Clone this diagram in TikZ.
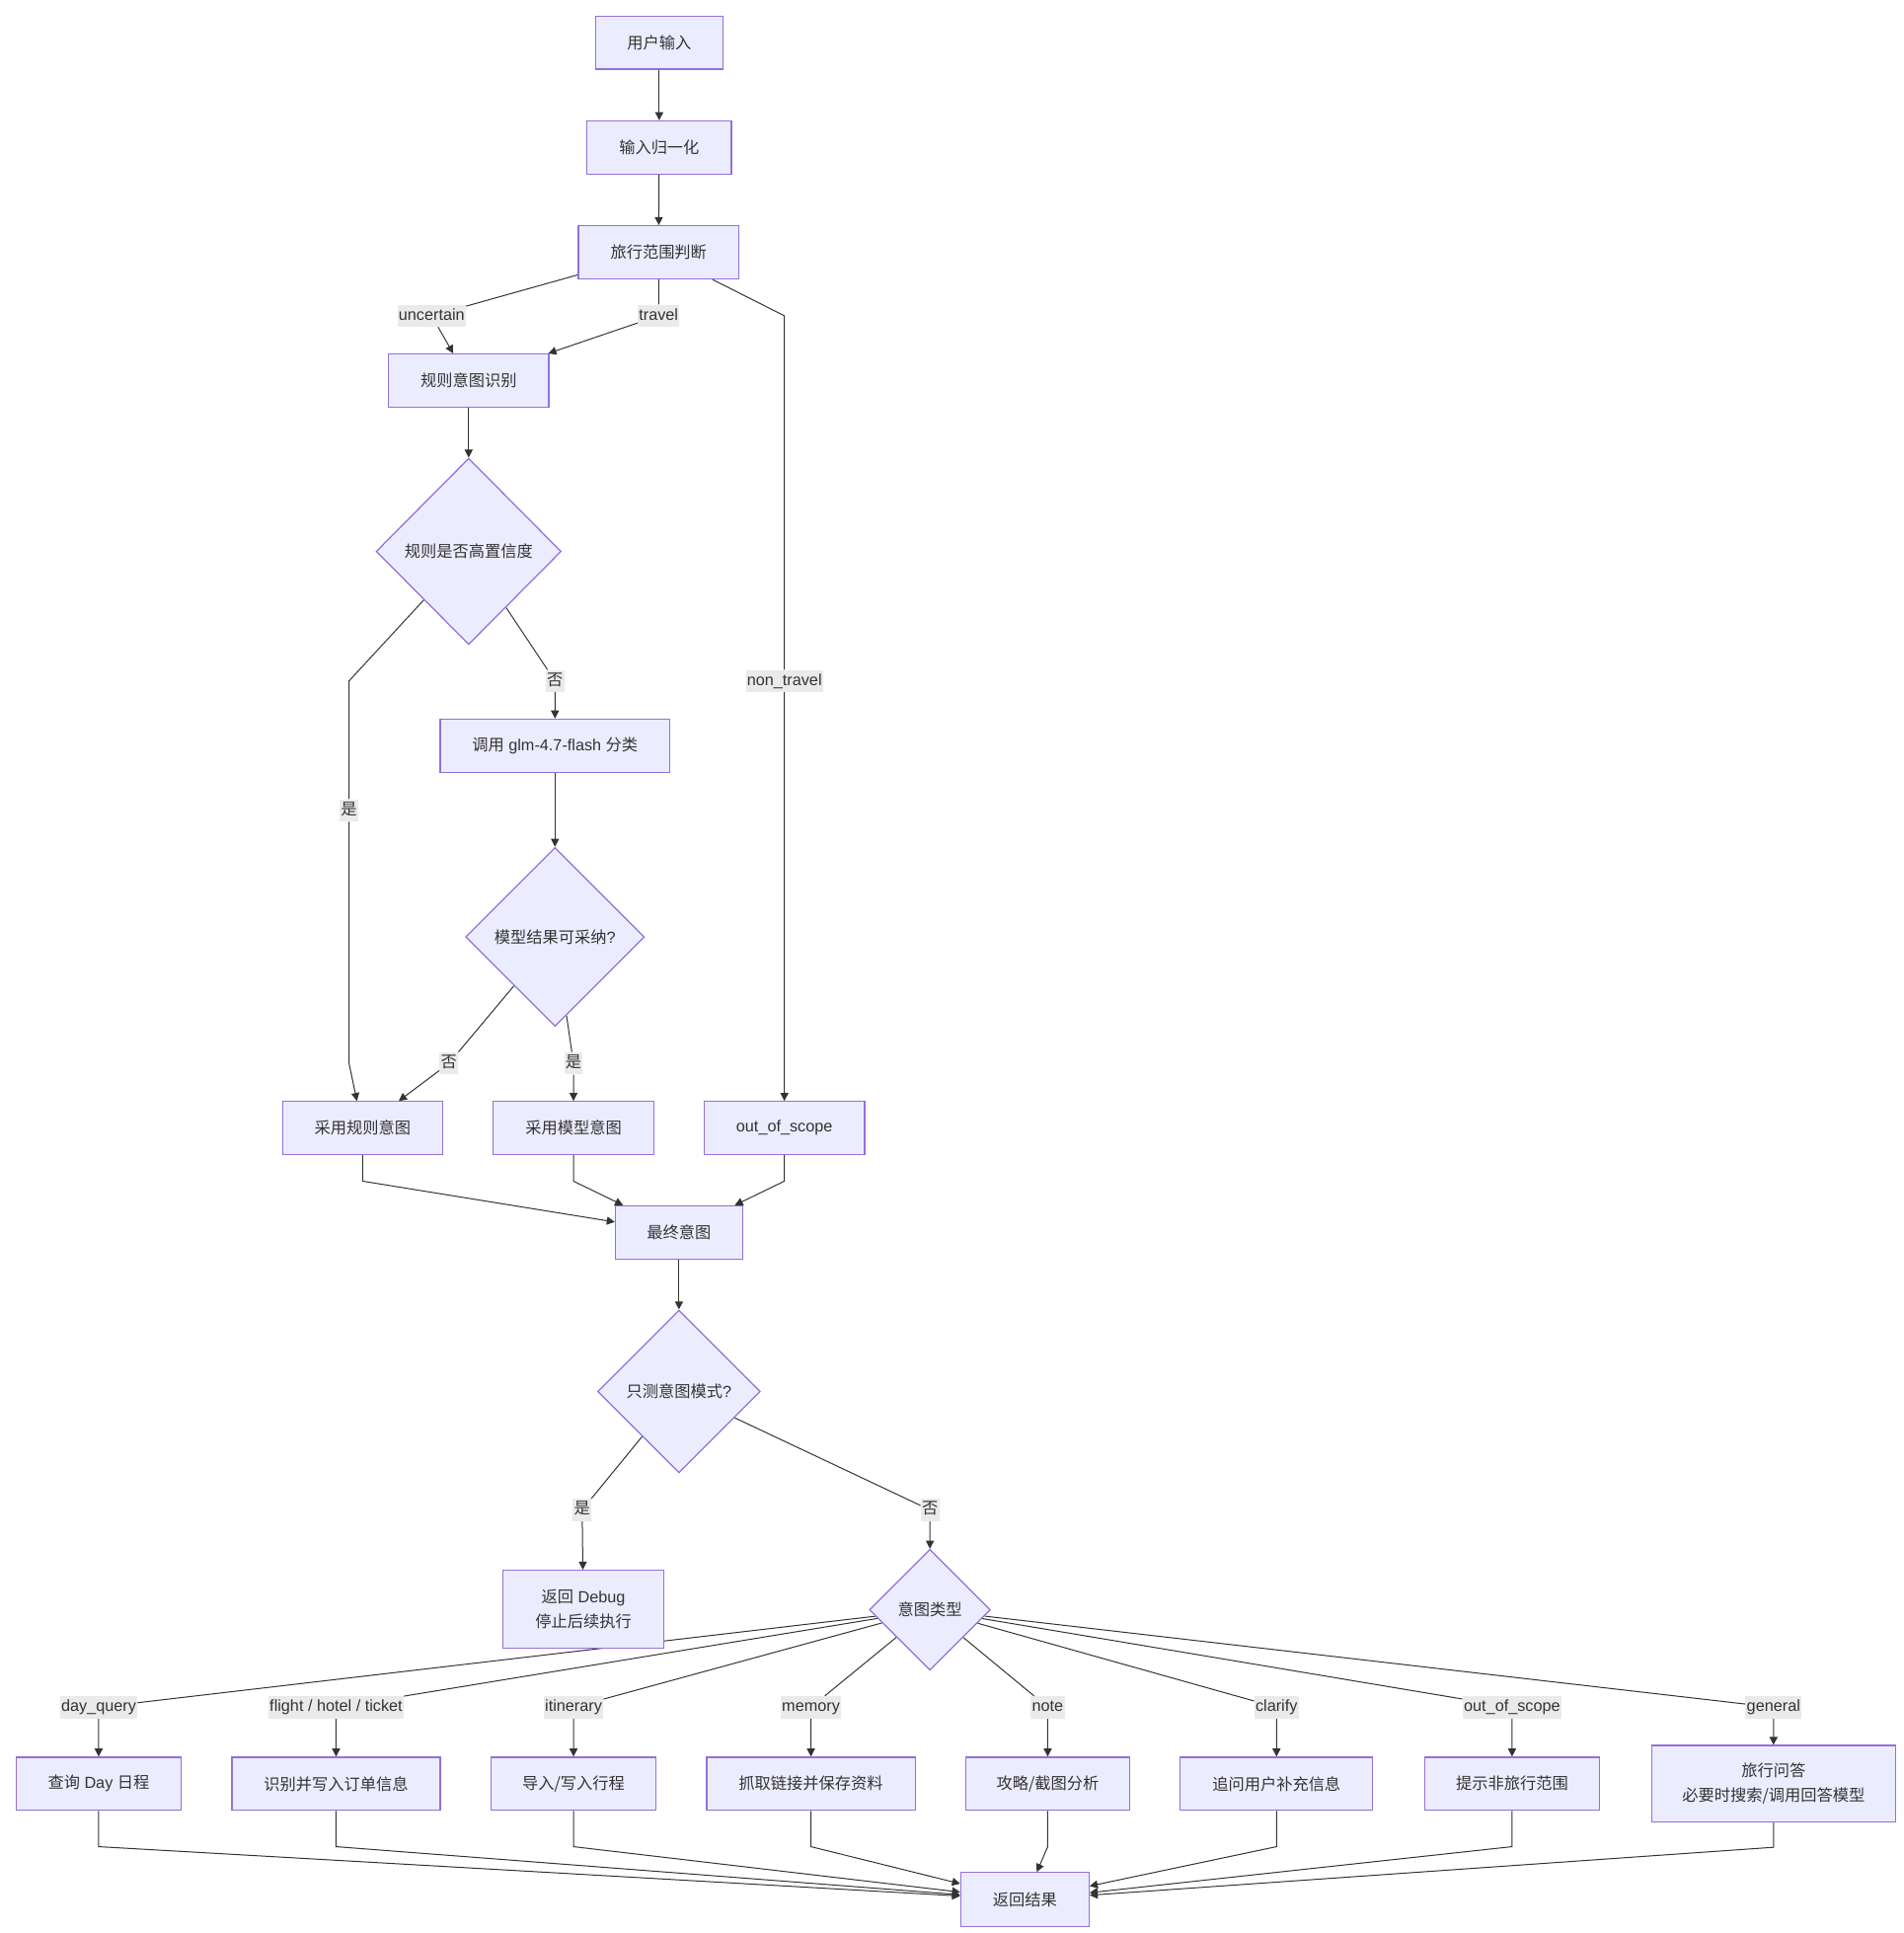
\documentclass[tikz,border=0pt]{standalone}
\usepackage{fontspec}
\setmainfont{Liberation Sans}
\newfontfamily\cjk{Noto Sans CJK SC}
\usetikzlibrary{shapes.geometric,arrows.meta,backgrounds}
\definecolor{nodefill}{HTML}{ECECFF}
\definecolor{nodeline}{HTML}{9370DB}
\definecolor{edgeline}{HTML}{333333}
\definecolor{tagfill}{HTML}{EAEAEA}

\begin{document}
\begin{tikzpicture}[x=1pt,y=-1pt,
  every node/.style={font=\fontsize{13}{20}\selectfont, text=edgeline},
  box/.style={draw=nodeline, fill=nodefill, line width=1pt, minimum height=43pt, inner sep=0pt, align=center},
  choice/.style={diamond, draw=nodeline, fill=nodefill, line width=1pt, inner sep=0pt},
  tag/.style={fill=tagfill, inner xsep=1pt, inner ysep=2.5pt, text height=10pt, text depth=3pt},
  edge/.style={draw=edgeline, line width=0.8pt, -{Triangle[length=6.5pt,width=6.5pt]}}]
\useasboundingbox (0,0) rectangle (1543,1567);
% upper part
\node[box, minimum width=103pt] (input) at (534.5,34.5) {\cjk 用户输入};
\node[box, minimum width=117pt] (norm) at (534.5,119.5) {\cjk 输入归一化};
\node[box, minimum width=130pt] (scope) at (534,204.5) {\cjk 旅行范围判断};
\node[box, minimum width=130pt] (rule) at (380,308.5) {\cjk 规则意图识别};
\node[choice, minimum width=150pt, minimum height=151pt] (ruleconf) at (380,447) {\cjk 规则是否高置信度};
\node[box, minimum width=186pt] (llm) at (450,604.5) {{\cjk 调用} glm-4.7-flash {\cjk 分类}};
\node[choice, minimum width=145pt, minimum height=145pt] (llmok) at (450,759.5) {{\cjk 模型结果可采纳}?};
\node[box, minimum width=130pt] (userule) at (294,914.5) {\cjk 采用规则意图};
\node[box, minimum width=130pt] (usellm) at (465,914.5) {\cjk 采用模型意图};
\node[box, minimum width=130pt] (oos) at (636,914.5) {out\_of\_scope};
\node[box, minimum width=103pt] (final) at (550.5,999) {\cjk 最终意图};
\node[choice, minimum width=132pt, minimum height=132pt] (debugq) at (550.5,1128) {{\cjk 只测意图模式}?};
\node[box, minimum width=130pt, minimum height=63pt] (debug) at (473,1304.5) {{\cjk 返回} Debug\\{\cjk 停止后续执行}};
\node[choice, minimum width=98pt, minimum height=98pt] (itype) at (754,1305) {\cjk 意图类型};
% lower row
\node[box, minimum width=134pt] (dayq) at (80,1446) {{\cjk 查询} Day {\cjk 日程}};
\node[box, minimum width=169pt] (order) at (272.5,1446) {\cjk 识别并写入订单信息};
\node[box, minimum width=134pt] (itin) at (465,1446) {\cjk 导入/写入行程};
\node[box, minimum width=169pt] (memo) at (657.5,1446) {\cjk 抓取链接并保存资料};
\node[box, minimum width=133pt] (note) at (849.5,1446) {\cjk 攻略/截图分析};
\node[box, minimum width=156pt] (clar) at (1035,1446) {\cjk 追问用户补充信息};
\node[box, minimum width=142pt] (nontr) at (1226,1446) {\cjk 提示非旅行范围};
\node[box, minimum width=198pt, minimum height=62pt] (qa) at (1438,1446) {{\cjk 旅行问答}\\{\cjk 必要时搜索/调用回答模型}};
\node[box, minimum width=104pt, minimum height=44pt] (result) at (831,1540) {\cjk 返回结果};
% edge labels
\node[tag] (lbUnc) at (350,256) {uncertain};
\node[tag] (lbTravel) at (534,256) {travel};
\node[tag] (lbNon) at (636,552) {non\_travel};
\node[tag] (lbNo1) at (450,552) {\cjk 否};
\node[tag] (lbYes1) at (283,657) {\cjk 是};
\node[tag] (lbNo2) at (364,862) {\cjk 否};
\node[tag] (lbYes2) at (465,862) {\cjk 是};
\node[tag] (lbYes3) at (472,1224) {\cjk 是};
\node[tag] (lbNo3) at (754,1224) {\cjk 否};
\node[tag] (lbDay) at (80,1384) {day\_query};
\node[tag] (lbOrder) at (272.5,1384) {flight / hotel / ticket};
\node[tag] (lbItin) at (465,1384) {itinerary};
\node[tag] (lbMemo) at (657.5,1384) {memory};
\node[tag] (lbNote) at (849.5,1384) {note};
\node[tag] (lbClar) at (1035,1384) {clarify};
\node[tag] (lbNontr) at (1226,1384) {out\_of\_scope};
\node[tag] (lbQa) at (1438,1384) {general};
% connectors
\begin{pgfonlayer}{background}
\draw[edge] (input) -- (norm);
\draw[edge] (norm) -- (scope);
\draw[edge] (scope) -- (lbUnc) -- (rule);
\draw[edge] (scope) -- (lbTravel) -- (rule);
\draw[edge] (scope) -- (lbNon |- lbTravel) -- (lbNon) -- (oos);
\draw[edge] (rule) -- (ruleconf);
\draw[edge] (ruleconf) -- (lbYes1 |- lbNo1) -- (lbYes1) -- (lbYes1 |- lbNo2) -- (userule);
\draw[edge] (ruleconf) -- (lbNo1) -- (llm);
\draw[edge] (llm) -- (llmok);
\draw[edge] (llmok) -- (lbNo2) -- (userule);
\draw[edge] (llmok) -- (lbYes2) -- (usellm);
\draw[edge] (userule.south) -- ++(0,21) -- (final);
\draw[edge] (usellm.south) -- ++(0,21) -- (final);
\draw[edge] (oos.south) -- ++(0,21) -- (final);
\draw[edge] (final) -- (debugq);
\draw[edge] (debugq) -- (lbYes3) -- (debug);
\draw[edge] (debugq) -- (lbNo3) -- (itype);
\foreach \lb/\b in {lbDay/dayq, lbOrder/order, lbItin/itin, lbMemo/memo, lbNote/note, lbClar/clar, lbNontr/nontr, lbQa/qa}
  \draw[edge] (itype) -- (\lb) -- (\b);
\foreach \b in {dayq, order, itin, memo, note, clar, nontr}
  \draw[edge] (\b.south) -- ++(0,29) -- (result);
\draw[edge] (qa.south) -- ++(0,20) -- (result);
\end{pgfonlayer}
\end{tikzpicture}
\end{document}
